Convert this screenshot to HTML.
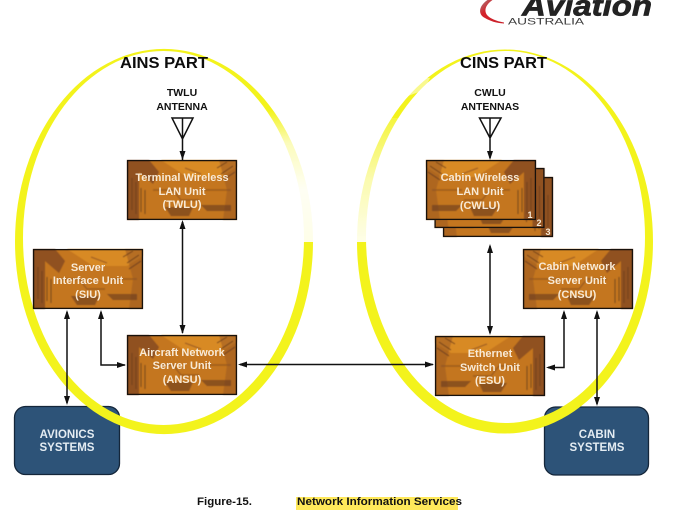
<!DOCTYPE html>
<html>
<head>
<meta charset="utf-8">
<style>
html,body{margin:0;padding:0;background:#fff;}
svg{display:block;}
text{font-family:"Liberation Sans",sans-serif;font-weight:bold;}
.w{fill:#f8ead6;font-size:11px;text-anchor:middle;}
.b{fill:#e4ecf2;font-size:11.5px;text-anchor:middle;}
.k{fill:#111;font-size:10.5px;text-anchor:middle;}
.t{fill:#0c0c0c;font-size:16px;}
.l{stroke:#111;stroke-width:1.5;fill:none;}
.a{fill:#111;}
</style>
</head>
<body>
<svg width="676" height="516" viewBox="0 0 676 516" xmlns="http://www.w3.org/2000/svg">
<defs>
<filter id="soft" x="-5%" y="-5%" width="110%" height="110%"><feGaussianBlur stdDeviation="0.6"/></filter>
<linearGradient id="fadeL" x1="0" y1="0" x2="0" y2="1">
<stop offset="0" stop-color="#fff" stop-opacity="0"/>
<stop offset=".25" stop-color="#fff" stop-opacity=".7"/>
<stop offset=".6" stop-color="#fff" stop-opacity=".95"/>
<stop offset="1" stop-color="#fff" stop-opacity=".9"/>
</linearGradient>
<linearGradient id="fadeR" x1="0" y1="0" x2="0" y2="1">
<stop offset="0" stop-color="#fff" stop-opacity=".15"/>
<stop offset=".5" stop-color="#fff" stop-opacity=".65"/>
<stop offset="1" stop-color="#fff" stop-opacity=".9"/>
</linearGradient>
<linearGradient id="swoosh" x1="0" y1="0" x2="1" y2="1">
<stop offset="0" stop-color="#9a8a8a"/>
<stop offset=".35" stop-color="#d5232b"/>
<stop offset="1" stop-color="#c8202a"/>
</linearGradient>
<g id="box">
<rect x="0.5" y="0.5" width="109" height="59" fill="#c4761f"/>
<g filter="url(#soft)">
<path d="M0 0H22L32 12L26 24L12 12V60H0Z" fill="#83491f" opacity=".8"/>
<path d="M34 0L60 17H94L110 7V0Z" fill="#dc8d27" opacity=".85"/>
<path d="M92 0H110V60H96L100 30Z" fill="#9a5a20" opacity=".55"/>
<path d="M74 45H104V51H80ZM38 47H66L62 56H44Z" fill="#6f3d1f" opacity=".65"/>
<path d="M5 18V50M9 22V54M14 28V52M18 30V54M90 8L100 2M94 14L106 6M96 20L108 12" stroke="#6b3c1e" stroke-width="1.1" opacity=".75" fill="none"/>
<path d="M26 30H46L54 40H72M74 30H104M58 8L74 14" stroke="#8a4e1f" stroke-width="1.4" opacity=".65" fill="none"/>
</g>
<rect x="0.6" y="0.6" width="108.800" height="58.800" fill="none" stroke="#17110c" stroke-width="1.3"/>
</g>
</defs>

<!-- logo -->
<path d="M489 -1C479 5 477 14 485 18C490 21 496 23 504 23.500L504 22.500C496 21 490 18.500 487 15C483.500 10 486 4 494 -1Z" fill="url(#swoosh)"/>
<text x="522" y="15.500" fill="#232323" stroke="#232323" stroke-width=".7" textLength="130" lengthAdjust="spacingAndGlyphs" style="font-size:29px;font-style:italic">Aviation</text>
<text x="508" y="24.500" fill="#3b3b3b" textLength="76" lengthAdjust="spacingAndGlyphs" style="font-size:9.500px;font-weight:normal">AUSTRALIA</text>

<!-- external systems (beneath ellipses) -->
<rect x="14.500" y="406.500" width="105" height="68" rx="11" fill="#2d5378" stroke="#14263a" stroke-width="1.300"/>
<rect x="544.500" y="407" width="104" height="68" rx="11" fill="#2d5378" stroke="#14263a" stroke-width="1.300"/>

<!-- yellow ellipses -->
<path fill-rule="evenodd" fill="#f3f31c" d="M15 241.500a149 192.500 0 1 0 298 0a149 192.500 0 1 0 -298 0ZM23 238a140.500 187 0 1 0 281 0a140.500 187 0 1 0 -281 0Z"/>
<path fill-rule="evenodd" fill="#f3f31c" d="M357 241.500a148 192 0 1 0 296 0a148 192 0 1 0 -296 0ZM366 237a139.500 186 0 1 0 279 0a139.500 186 0 1 0 -279 0Z"/>
<!-- faded parts of the ellipses -->
<rect x="262" y="110" width="56" height="132" fill="url(#fadeL)"/>
<rect x="350" y="118" width="58" height="124" fill="url(#fadeR)"/>
<path d="M415 78L430 78L424 90L408 96Z" fill="#fff" opacity=".5"/>

<!-- boxes -->
<use href="#box" x="127" y="160"/>
<use href="#box" x="33" y="249"/>
<use href="#box" x="127" y="335"/>
<use href="#box" transform="translate(553,177) scale(-1,1)"/>
<use href="#box" transform="translate(544.500,168) scale(-1,1)"/>
<use href="#box" transform="translate(536,160) scale(-1,1)"/>
<use href="#box" transform="translate(633,249) scale(-1,1)"/>
<use href="#box" transform="translate(545,336) scale(-1,1)"/>

<!-- antennas -->
<path class="l" d="M172 118H193L182.500 139ZM182.500 118V160"/>
<path class="l" d="M479.500 118H501L490 138ZM490 118V158"/>

<!-- connectors -->
<path class="l" d="M182.500 222V333M67 312V403M101 312V365H125M240 364.500H433M490 246V333M564 312V367.500H548M597 312V404"/>
<!-- arrowheads -->
<path class="a" d="M182.500 160l-3 -9h6Z"/>
<path class="a" d="M490 160l-3 -9h6Z"/>
<path class="a" d="M182.500 220l-3 9h6Z"/>
<path class="a" d="M182.500 334l-3 -9h6Z"/>
<path class="a" d="M67 310l-3 9h6Z"/>
<path class="a" d="M67 405l-3 -9h6Z"/>
<path class="a" d="M101 310l-3 9h6Z"/>
<path class="a" d="M126 365l-9 -3v6Z"/>
<path class="a" d="M238 364.500l9 -3v6Z"/>
<path class="a" d="M434 364.500l-9 -3v6Z"/>
<path class="a" d="M490 244l-3 9h6Z"/>
<path class="a" d="M490 335l-3 -9h6Z"/>
<path class="a" d="M546 367.500l9 -3v6Z"/>
<path class="a" d="M564 310l-3 9h6Z"/>
<path class="a" d="M597 310l-3 9h6Z"/>
<path class="a" d="M597 406l-3 -9h6Z"/>

<!-- titles -->
<text class="t" x="120" y="68" textLength="88" lengthAdjust="spacingAndGlyphs">AINS PART</text>
<text class="t" x="460" y="68" textLength="87" lengthAdjust="spacingAndGlyphs">CINS PART</text>
<text class="k" x="182" y="96">TWLU</text>
<text class="k" x="182" y="110">ANTENNA</text>
<text class="k" x="490" y="96">CWLU</text>
<text class="k" x="490" y="110">ANTENNAS</text>

<!-- box labels -->
<text class="w" x="182" y="181">Terminal Wireless</text>
<text class="w" x="182" y="195">LAN Unit</text>
<text class="w" x="182" y="208">(TWLU)</text>

<text class="w" x="88" y="271">Server</text>
<text class="w" x="88" y="284">Interface Unit</text>
<text class="w" x="88" y="298">(SIU)</text>

<text class="w" x="182" y="356">Aircraft Network</text>
<text class="w" x="182" y="369">Server Unit</text>
<text class="w" x="182" y="383">(ANSU)</text>

<text class="w" x="480" y="181">Cabin Wireless</text>
<text class="w" x="480" y="195">LAN Unit</text>
<text class="w" x="480" y="209">(CWLU)</text>
<text class="w" x="530" y="218" style="font-size:9px">1</text>
<text class="w" x="539" y="226" style="font-size:9px">2</text>
<text class="w" x="548" y="235" style="font-size:9px">3</text>

<text class="w" x="577" y="270">Cabin Network</text>
<text class="w" x="577" y="284">Server Unit</text>
<text class="w" x="577" y="298">(CNSU)</text>

<text class="w" x="490" y="357">Ethernet</text>
<text class="w" x="490" y="371">Switch Unit</text>
<text class="w" x="490" y="384">(ESU)</text>

<text class="b" x="67" y="438">AVIONICS</text>
<text class="b" x="67" y="451">SYSTEMS</text>
<text class="b" x="597" y="438">CABIN</text>
<text class="b" x="597" y="451">SYSTEMS</text>

<!-- caption -->
<rect x="296" y="497" width="162" height="13" fill="#ffe95a"/>
<text x="197" y="505" fill="#111" textLength="55" lengthAdjust="spacingAndGlyphs" style="font-size:11px">Figure-15.</text>
<text x="297" y="505" fill="#111" textLength="165" lengthAdjust="spacingAndGlyphs" style="font-size:11px">Network Information Services</text>
</svg>
</body>
</html>
